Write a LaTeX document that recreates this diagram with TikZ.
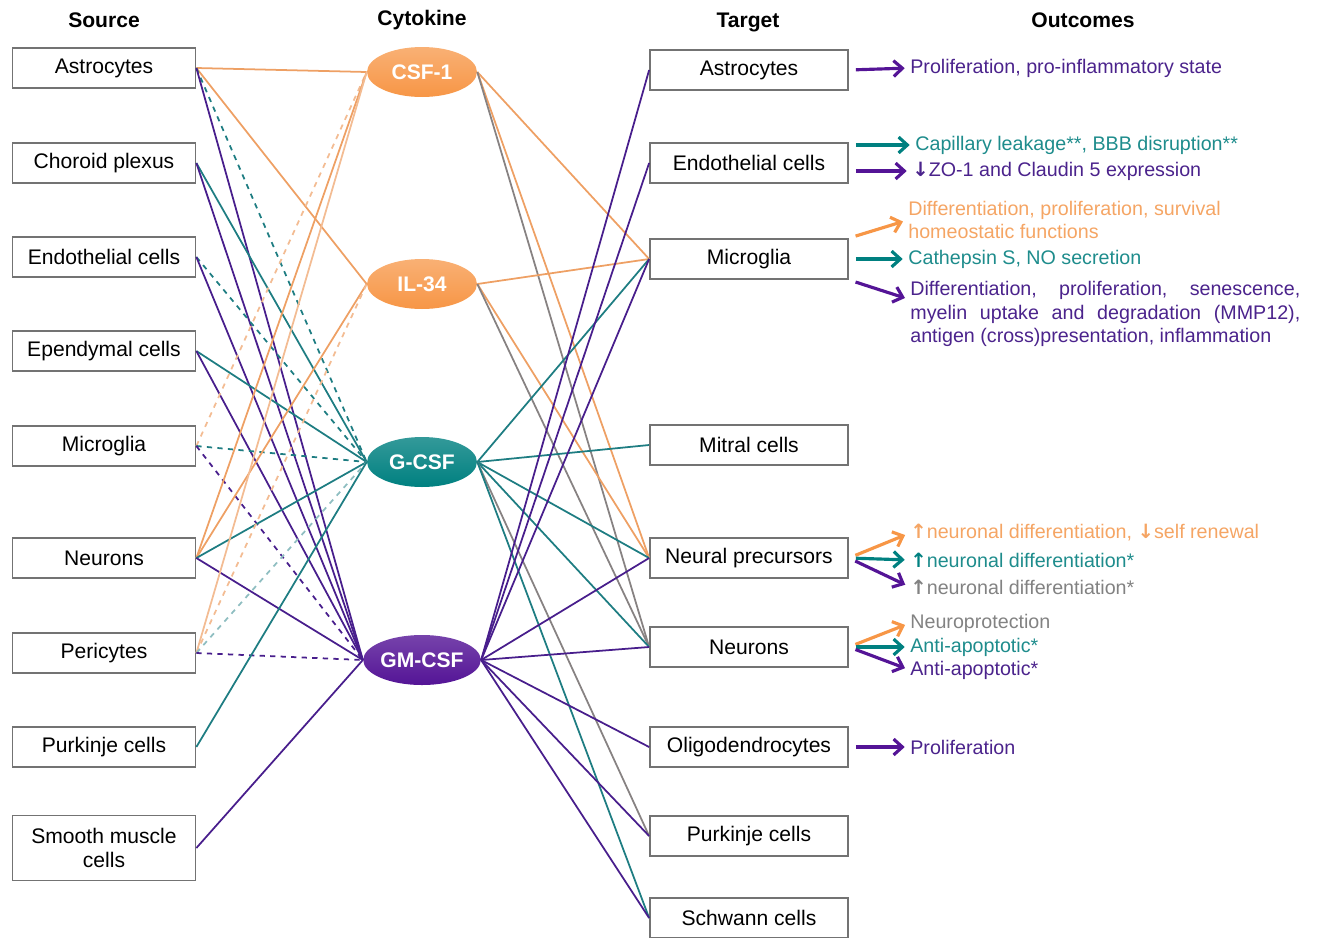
\documentclass[tikz,border=0pt]{standalone}
\usepackage{fontspec}
\setmainfont{Liberation Sans}
\newfontfamily\symfont{DejaVu Sans}
\usepackage{tikz}
\usetikzlibrary{arrows.meta, shapes.geometric, positioning}
\usepackage{xcolor}
\definecolor{cytorange}{RGB}{247,150,70}
\definecolor{cytteal}{RGB}{0,128,128}
\definecolor{cytpurple}{RGB}{84,20,150}
\definecolor{lnorange}{RGB}{238,160,100}
\definecolor{lnteal}{RGB}{30,125,130}
\definecolor{lnpurple}{RGB}{72,30,140}
\definecolor{lngray}{RGB}{135,130,130}
\definecolor{txtorange}{RGB}{245,165,100}
\definecolor{txtteal}{RGB}{30,140,140}
\definecolor{txtpurple}{RGB}{75,35,140}
\definecolor{txtgray}{RGB}{130,130,130}
\newcommand{\arrup}{{\symfont\bfseries ↑}}
\newcommand{\arrdn}{{\symfont\bfseries ↓}}

\begin{document}
\begin{tikzpicture}[x=0.02cm, y=-0.02cm,
  cellbox/.style={draw=black!55, line width=1pt, fill=white, minimum width=3.66cm,
    minimum height=0.8cm, align=center, inner sep=1pt, font=\fontsize{12}{14}\selectfont},
  tgtbox/.style={cellbox, minimum width=3.96cm},
  cyto/.style={ellipse, minimum width=2.2cm, minimum height=1.0cm, inner sep=0pt,
    text=white, font=\bfseries\fontsize{12}{14}\selectfont},
  head/.style={font=\bfseries\fontsize{12}{14}\selectfont},
  link/.style={line width=1pt},
  outarrow/.style={-{Straight Barb[length=5pt,width=9pt]}, line width=1.8pt,
    shorten <=4pt, shorten >=3pt},
  outtxt/.style={anchor=west, inner sep=0pt, align=left, font=\fontsize{11.2}{13.5}\selectfont}]
\useasboundingbox (0,0) rectangle (1321,937);

% column headers
\node[head] (h-src) at (104,20) {Source};
\node[head] (h-cyt) at (422,20) {Cytokine};
\node[head] (h-tgt) at (748,22) {Target};
\node[head] (h-out) at (1083,20) {Outcomes};

% source cells
\foreach \nm/\yy/\txt in {astro/68/Astrocytes, chor/163/Choroid plexus,
    endo/257/Endothelial cells, epen/351/Ependymal cells, micro/446/Microglia,
    neur/558/Neurons, peri/653/Pericytes, purk/747/Purkinje cells}
  \node[cellbox] (s-\nm) at (104,\yy) {\txt};
\node[cellbox, minimum height=1.3cm] (s-smooth) at (104,848) {Smooth muscle\\cells};

% target cells
\foreach \nm/\yy/\txt in {astro/70/Astrocytes, endo/163/Endothelial cells,
    micro/259/Microglia, mitral/445/Mitral cells, nprec/558/Neural precursors,
    neur/647/Neurons, oligo/747/Oligodendrocytes, purk/836/Purkinje cells,
    schw/918/Schwann cells}
  \node[tgtbox] (t-\nm) at (749,\yy) {\txt};

% cytokines
\node[cyto, top color=cytorange!75!white, bottom color=cytorange] (c-csf) at (422,72) {CSF-1};
\node[cyto, top color=cytorange!75!white, bottom color=cytorange] (c-il) at (422,284) {IL-34};
\node[cyto, top color=cytteal!80!white, bottom color=cytteal] (c-gcsf) at (422,462) {G-CSF};
\node[cyto, top color=cytpurple!80!white, bottom color=cytpurple] (c-gmcsf) at (422,660) {GM-CSF};

% source -> cytokine
\foreach \a/\b/\c/\d in {astro/csf/lnorange/solid, astro/il/lnorange/solid,
    astro/gcsf/lnteal/dashed, astro/gmcsf/lnpurple/solid,
    chor/gcsf/lnteal/solid, chor/gmcsf/lnpurple/solid,
    endo/gcsf/lnteal/dashed, endo/gmcsf/lnpurple/solid,
    epen/gcsf/lnteal/solid, epen/gmcsf/lnpurple/solid,
    micro/csf/lnorange!70/dashed, micro/gcsf/lnteal/dashed, micro/gmcsf/lnpurple/dashed,
    neur/csf/lnorange/solid, neur/il/lnorange/solid, neur/gcsf/lnteal/solid, neur/gmcsf/lnpurple/solid,
    peri/csf/lnorange!70/solid, peri/il/lnorange!70/dashed, peri/gcsf/lnteal!50/dashed,
    peri/gmcsf/lnpurple/dashed,
    purk/gcsf/lnteal/solid, smooth/gmcsf/lnpurple/solid}
  \draw[link, \c, \d] (s-\a.east) -- (c-\b.west);

% cytokine -> target
\foreach \a/\b/\c in {csf/micro/lnorange, csf/nprec/lnorange, csf/neur/lngray,
    il/micro/lnorange, il/nprec/lnorange, il/neur/lngray,
    gcsf/micro/lnteal, gcsf/mitral/lnteal, gcsf/nprec/lnteal, gcsf/neur/lnteal,
    gcsf/purk/lngray, gcsf/schw/lnteal,
    gmcsf/astro/lnpurple, gmcsf/endo/lnpurple, gmcsf/micro/lnpurple, gmcsf/nprec/lnpurple,
    gmcsf/neur/lnpurple, gmcsf/oligo/lnpurple, gmcsf/purk/lnpurple, gmcsf/schw/lnpurple}
  \draw[link, \c] (c-\a.east) -- (t-\b.west);

% outcomes
\node[outtxt, text=txtpurple] (o-astro) at (910,68) {Proliferation, pro-inflammatory state};
\node[outtxt, text=txtteal] (o-endo1) at (915,145) {Capillary leakage**, BBB disruption**};
\node[outtxt, text=txtpurple] (o-endo2) at (912,171) {\arrdn ZO-1 and Claudin 5 expression};
\node[outtxt, text=txtorange] (o-mic1) at (908,220) {Differentiation, proliferation, survival\\homeostatic functions};
\node[outtxt, text=txtteal] (o-mic2) at (908,259) {Cathepsin S, NO secretion};
\node[outtxt, text=txtpurple] (o-mic3) at (910,314)
  {\makebox[7.8cm][s]{Differentiation, proliferation, senescence,}\\
   \makebox[7.8cm][s]{myelin uptake and degradation (MMP12),}\\
   antigen (cross)presentation, inflammation};
\coordinate (mic3tip) at (905,298);
\node[outtxt, text=txtorange] (o-np1) at (910,533) {\arrup neuronal differentiation, \arrdn self renewal};
\node[outtxt, text=txtteal] (o-np2) at (910,560) {{\color{cytteal}\arrup}neuronal differentiation*};
\node[outtxt, text=txtgray] (o-np3) at (910,587) {\arrup neuronal differentiation*};
\node[outtxt, text=txtgray] (o-ne1) at (910,623) {Neuroprotection};
\node[outtxt, text=txtteal] (o-ne2) at (910,647) {Anti-apoptotic*};
\node[outtxt, text=txtpurple] (o-ne3) at (910,670) {Anti-apoptotic*};
\node[outtxt, text=txtpurple] (o-oligo) at (910,747) {Proliferation};

\draw[outarrow, cytpurple] (t-astro.east) -- (o-astro.west);
\draw[outarrow, cytteal] (t-endo.east |- o-endo1.west) -- (o-endo1.west);
\draw[outarrow, cytpurple] (t-endo.east |- o-endo2.west) -- (o-endo2.west);
\draw[outarrow, cytorange] (t-micro.north east) -- (o-mic1.west);
\draw[outarrow, cytteal] (t-micro.east) -- (o-mic2.west);
\draw[outarrow, cytpurple, shorten >=0pt] (t-micro.south east) -- (mic3tip);
\draw[outarrow, cytorange] (t-nprec.east) -- (o-np1.west);
\draw[outarrow, cytteal] (t-nprec.east) -- (o-np2.west);
\draw[outarrow, cytpurple] (t-nprec.east) -- (o-np3.west);
\draw[outarrow, cytorange] (t-neur.east) -- (o-ne1.west);
\draw[outarrow, cytteal] (t-neur.east) -- (o-ne2.west);
\draw[outarrow, cytpurple] (t-neur.east) -- (o-ne3.west);
\draw[outarrow, cytpurple] (t-oligo.east) -- (o-oligo.west);
\end{tikzpicture}
\end{document}
